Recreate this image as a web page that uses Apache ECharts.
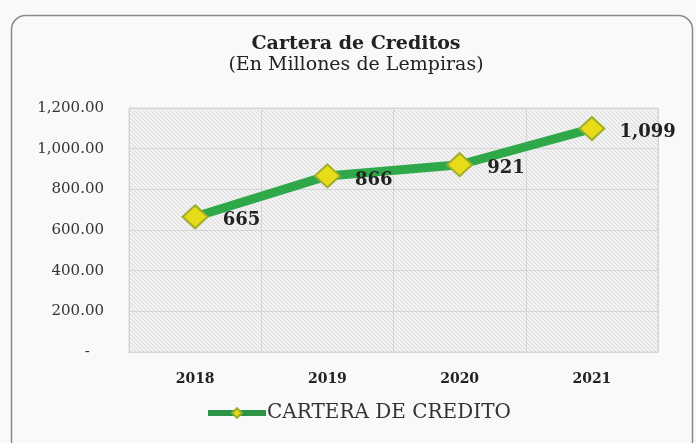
<!DOCTYPE html>
<html lang="es">
<head>
  <meta charset="UTF-8" />
  <title>Cartera de Creditos</title>
  <script src="https://cdn.jsdelivr.net/npm/echarts@6/dist/echarts.min.js"></script>
  <style>
    html, body { margin: 0; padding: 0; background: #f9f9f9; }
  </style>
</head>
<body>
  <div id="main" style="width: 696px; height: 443px;"></div>
  <script type="text/javascript">
    // datos
    let years = ['2018', '2019', '2020', '2021'];
    let cartera = [665, 866, 921, 1099];
    let seriesName = 'CARTERA DE CREDITO';

    // colores
    let lineColor = '#2fa84a';
    let markerFill = '#e8dc18';
    let markerBorder = '#9cae2c';
    let gridColor = '#d4d4d4';
    let textColor = '#222';
    let serif = '"DejaVu Serif", "Liberation Serif", serif';

    // fondo rayado del area de trazado
    let hatch = document.createElement('canvas');
    hatch.width = 4;
    hatch.height = 4;
    let ctx = hatch.getContext('2d');
    ctx.fillStyle = '#f2f2f2';
    ctx.fillRect(0, 0, 4, 4);
    ctx.strokeStyle = '#dadada';
    ctx.lineWidth = 1;
    ctx.beginPath();
    ctx.moveTo(0, 0); ctx.lineTo(4, 4);
    ctx.moveTo(-1, 3); ctx.lineTo(1, 5);
    ctx.moveTo(3, -1); ctx.lineTo(5, 1);
    ctx.stroke();

    var myChart = echarts.init(document.getElementById('main'));
    myChart.setOption({
      backgroundColor: '#f9f9f9',
      animation: false,
      graphic: [{
        type: 'rect',
        left: 9, top: 13,
        shape: { width: 681, height: 440, r: 14 },
        style: { fill: 'none', stroke: '#8a8a8a', lineWidth: 1.5 },
        z: -1
      }],
      title: {
        text: 'Cartera de Creditos',
        subtext: '(En Millones de Lempiras)',
        left: 351,
        textAlign: 'center',
        top: 30,
        padding: 5,
        itemGap: 2,
        textStyle: { fontFamily: serif, fontSize: 19, fontWeight: 'bold', color: textColor },
        subtextStyle: { fontFamily: serif, fontSize: 19, color: textColor }
      },
      legend: {
        bottom: 15,
        left: 200,
        padding: 5,
        itemWidth: 58,
        itemHeight: 12,
        itemGap: 0,
        lineStyle: { width: 6, color: '#2c9446' },
        textStyle: { fontFamily: serif, fontSize: 20, color: '#333', padding: [0, 0, 0, -4] },
        data: [seriesName]
      },
      grid: {
        left: 129, right: 38, top: 108, bottom: 91,
        show: true,
        backgroundColor: { image: hatch, repeat: 'repeat' },
        borderColor: gridColor,
        borderWidth: 1
      },
      xAxis: {
        type: 'category',
        data: years,
        boundaryGap: true,
        axisLine: { lineStyle: { color: gridColor } },
        axisTick: { show: false },
        splitLine: { show: true, lineStyle: { color: gridColor } },
        axisLabel: { margin: 20, fontFamily: serif, fontSize: 14, fontWeight: 'bold', color: textColor }
      },
      yAxis: {
        type: 'value',
        min: 0, max: 1200, interval: 200,
        axisLine: { show: false },
        axisTick: { show: false },
        splitLine: { lineStyle: { color: gridColor } },
        axisLabel: {
          margin: 25,
          fontFamily: serif, fontSize: 15, color: '#333',
          formatter: function (v) {
            if (v === 0) return '-   ';
            return v.toLocaleString('en-US', { minimumFractionDigits: 2, maximumFractionDigits: 2 });
          }
        }
      },
      series: [{
        name: seriesName,
        type: 'line',
        data: cartera,
        symbol: 'diamond',
        symbolSize: [25, 23],
        lineStyle: { color: lineColor, width: 9 },
        itemStyle: { color: markerFill, borderColor: markerBorder, borderWidth: 2 },
        label: {
          show: true,
          position: 'right',
          distance: 14,
          offset: [0, 4],
          fontFamily: serif, fontSize: 18, fontWeight: 'bold', color: textColor,
          formatter: function (p) {
            return p.value.toLocaleString('en-US');
          }
        }
      }]
    });
  </script>
</body>
</html>
